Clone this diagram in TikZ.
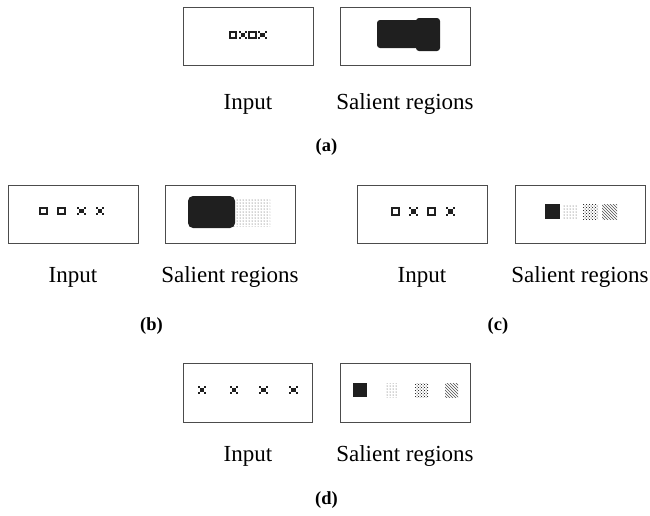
\documentclass[tikz,border=0pt]{standalone}
\usepackage{fontspec}
\setmainfont{Liberation Serif}
\usetikzlibrary{patterns}
\tikzset{
    frame/.style={draw=black!70, line width=0.9pt},
    caption/.style={font=\fontsize{23}{26}\selectfont, anchor=base},
    subcap/.style={font=\fontsize{18.5}{22}\selectfont\bfseries, anchor=base},
    blob/.style={fill=black!88, rounded corners=3pt},
    dotfill/.style={pattern=dots, pattern color=black!75},
    ringfill/.style={pattern=crosshatch dots, pattern color=black},
    linefill/.style={pattern=north west lines, pattern color=black!70},
    sqmark/.pic={\draw[line width=2pt, black!88] (-3.3,-3.3) rectangle (3.3,3.3);},
    xmark/.pic={
        \fill[black!88] (-2.2,-2.2) rectangle (2.2,2.2);
        \foreach \sx in {-1,1} \foreach \sy in {-1,1}
            \fill[black!88] ({3.4*\sx-1},{3.4*\sy-1}) rectangle +(2,2);
    }
}

\begin{document}
\begin{tikzpicture}[x=1pt, y=-1pt]
    \useasboundingbox (0,0) rectangle (650,515);

    % (a) one row, one joined region
    \begin{scope}[shift={(183,7)}]
        \draw[frame] (0,0) rectangle (130,58);
        \draw[frame] (157,0) rectangle (287,58);
        \pic at (50,28) {sqmark}; \pic at (60,28) {xmark};
        \pic at (69.5,28) {sqmark}; \pic at (79.5,28) {xmark};
        \fill[blob] (194,13) rectangle (237,41);
        \fill[blob] (233,11) rectangle (257,44);
        \node[caption] (in-a) at (65,102) {Input};
        \node[caption] (sal-a) at (222,102) {Salient regions};
        \node[subcap] (lab-a) at (143.5,144) {(a)};
    \end{scope}

    % (b) squares left, crosses right
    \begin{scope}[shift={(8,185)}]
        \draw[frame] (0,0) rectangle (130,58);
        \draw[frame] (157,0) rectangle (287,58);
        \pic at (35.5,26) {sqmark}; \pic at (53.5,26) {sqmark};
        \pic at (73.5,26) {xmark}; \pic at (92,26) {xmark};
        \fill[dotfill] (224,13) rectangle (262,41);
        \fill[blob, rounded corners=5pt] (180,11) rectangle (227,43);
        \node[caption] (in-b) at (65,97) {Input};
        \node[caption] (sal-b) at (222,97) {Salient regions};
        \node[subcap] (lab-b) at (143.5,145) {(b)};
    \end{scope}

    % (c) alternating squares and crosses
    \begin{scope}[shift={(357,185)}]
        \draw[frame] (0,0) rectangle (130,58);
        \draw[frame] (158,0) rectangle (288,58);
        \pic at (38.5,26.5) {sqmark}; \pic at (56.5,26.5) {xmark};
        \pic at (74.5,26.5) {sqmark}; \pic at (93.5,26.5) {xmark};
        \fill[black!88] (188,19) rectangle (203,34);
        \fill[dotfill] (206,19) rectangle (220,34);
        \fill[ringfill] (226,19) rectangle (241,34);
        \fill[linefill] (245,19) rectangle (260,34);
        \node[caption] (in-c) at (65,97) {Input};
        \node[caption] (sal-c) at (223,97) {Salient regions};
        \node[subcap] (lab-c) at (141,145) {(c)};
    \end{scope}

    % (d) crosses only
    \begin{scope}[shift={(183,363)}]
        \draw[frame] (0,0) rectangle (129,59);
        \draw[frame] (157,0) rectangle (287,59);
        \pic at (19,27) {xmark}; \pic at (51,27) {xmark};
        \pic at (80.5,27) {xmark}; \pic at (110.5,27) {xmark};
        \fill[black!88] (170,20) rectangle (184,34);
        \fill[dotfill] (202,20) rectangle (215,34);
        \fill[ringfill] (232,20) rectangle (245,34);
        \fill[linefill] (262,20) rectangle (275,34);
        \node[caption] (in-d) at (65,98) {Input};
        \node[caption] (sal-d) at (222,98) {Salient regions};
        \node[subcap] (lab-d) at (143.5,141) {(d)};
    \end{scope}
\end{tikzpicture}
\end{document}
